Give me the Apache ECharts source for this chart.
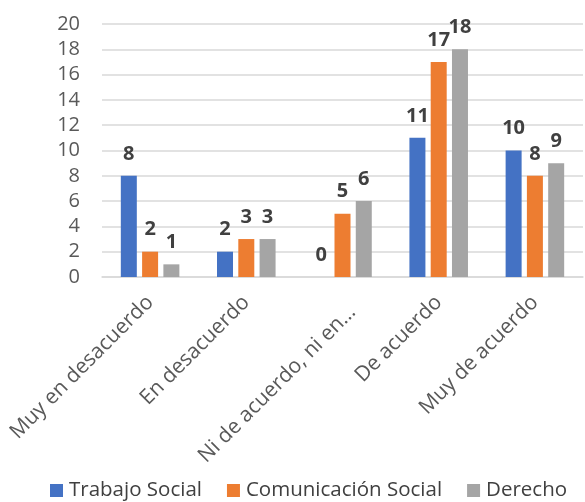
<!DOCTYPE html>
<html><head><meta charset="utf-8">
<script src="https://cdn.jsdelivr.net/npm/echarts@6/dist/echarts.min.js"></script>
<style>html,body{margin:0;padding:0;background:#fff}#c{width:585px;height:502px}</style>
</head><body><div id="c"></div>
<script>
const categories = ["Muy en desacuerdo", "En desacuerdo", "Ni de acuerdo, ni en…", "De acuerdo", "Muy de acuerdo"];
const seriesNames = ["Trabajo Social", "Comunicación Social", "Derecho"];
const trabajoSocial = [8, 2, 0, 11, 10];
const comunicacionSocial = [2, 3, 5, 17, 8];
const derecho = [1, 3, 6, 18, 9];
const colors = ["#4472C4", "#ED7D31", "#A5A5A5"];
const font = "'Open Sans', 'Noto Sans', sans-serif";

const chart = echarts.init(document.getElementById('c'), null, {renderer: 'canvas'});
const mk = (name, data, i) => ({
  name, type: 'bar', data, barWidth: 16, barGap: '33%',
  itemStyle: {color: colors[i]},
  label: {show: true, position: 'top', distance: 12, fontFamily: font, fontSize: 20, fontWeight: 'bold', color: '#404040'}
});
chart.setOption({
  animation: false,
  textStyle: {fontFamily: font},
  grid: {left: 102, right: 2, top: 24, bottom: 225, containLabel: false},
  legend: {
    bottom: 1, left: 50, padding: 0, itemWidth: 13, itemHeight: 13, itemGap: 25,
    icon: 'rect',
    textStyle: {fontFamily: font, fontSize: 20.5, color: '#404040', padding: [0, 0, 0, 1]},
    data: seriesNames
  },
  xAxis: {
    type: 'category', data: categories,
    axisLine: {show: true, lineStyle: {color: '#d9d9d9', width: 1.5}},
    axisTick: {show: false},
    axisLabel: {
      rotate: 45, interval: 0, margin: 22, fontFamily: font, fontSize: 21, color: '#595959',
      formatter: (v, i) => i === 2 ? '{s|' + v + '}' : v,
      rich: {s: {fontFamily: font, fontSize: 21, color: '#595959', padding: [28, 0, 0, 0]}}
    }
  },
  yAxis: {
    type: 'value', min: 0, max: 20, interval: 2,
    axisLine: {show: false}, axisTick: {show: false},
    splitLine: {lineStyle: {color: '#d9d9d9', width: 1.5}},
    axisLabel: {margin: 22, fontFamily: font, fontSize: 20, color: '#595959'}
  },
  series: [mk(seriesNames[0], trabajoSocial, 0), mk(seriesNames[1], comunicacionSocial, 1), mk(seriesNames[2], derecho, 2)]
});
</script></body></html>
